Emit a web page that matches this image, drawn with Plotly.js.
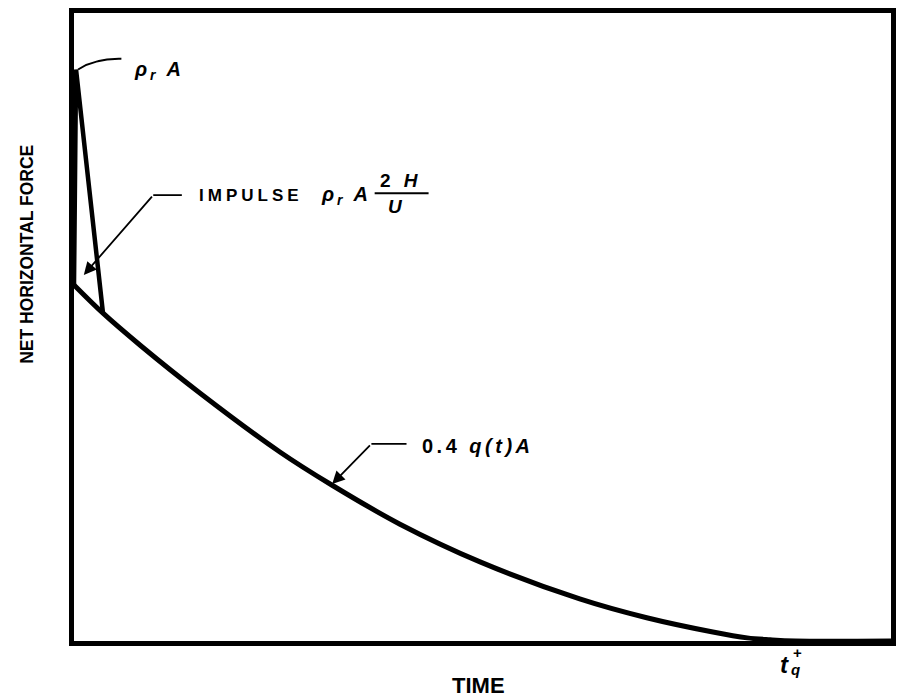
<!DOCTYPE html>
<html>
<head>
<meta charset="utf-8">
<script src="https://cdn.plot.ly/plotly-3.0.1.min.js"></script>
<style>
html,body{margin:0;padding:0;background:#fff;}
#chart{width:898px;height:700px;}
</style>
</head>
<body>
<div id="chart"></div>
<script>
// Quasi-static drag-type force 0.4 q(t) A (normalized time, normalized force)
const curveX = [0, 3.55, 8.1, 15.4, 25.2, 31.6, 39.9, 49.7, 61.9, 70.1, 78.2, 82.4, 85.2, 88.3, 100];
const curveY = [56.7, 52.2, 47.1, 39.5, 30.1, 24.8, 18.6, 12.6, 6.7, 3.7, 1.43, 0.5, 0.2, 0, 0];
// Reflected pressure pulse p_r A decaying onto the drag curve
const pulseX = [0, 0.25, 3.55];
const pulseY = [56.7, 91.0, 52.2];

const xTitle = 'TIME';
const yTitle = 'NET HORIZONTAL FORCE';

const F = 'Liberation Sans, Arial, sans-serif';

const traces = [
  {x: curveX, y: curveY, mode: 'lines', line: {color: '#000', width: 5, shape: 'spline', smoothing: 1}, cliponaxis: false, hoverinfo: 'skip'},
  {x: pulseX, y: pulseY, mode: 'lines', line: {color: '#000', width: 4.5}, cliponaxis: false, hoverinfo: 'skip'}
];

const black = '#000';
const ann = [
  // axis titles
  {x: 0.4945, y: -0.071, xref: 'paper', yref: 'paper', xanchor: 'center', yanchor: 'middle', showarrow: false,
   text: xTitle, font: {family: F, size: 22, color: black, weight: 'bold'}},
  {x: -0.0575, y: 0.615, xref: 'paper', yref: 'paper', xanchor: 'center', yanchor: 'middle', showarrow: false, textangle: -90,
   text: yTitle, font: {family: F, size: 17.5, color: black, weight: 'bold'}},
  // p_r A label
  {x: 7.1, y: 90.8, xref: 'x', yref: 'y', xanchor: 'left', yanchor: 'middle', showarrow: false,
   text: '<i><span style="letter-spacing:3px">ρ<sub>r</sub> A</span></i>', font: {family: F, size: 20, color: black, weight: 'bold'}},
  // IMPULSE label
  {x: 15.1, y: 71.0, xref: 'x', yref: 'y', xanchor: 'left', yanchor: 'middle', showarrow: false,
   text: '<span style="letter-spacing:4px">IMPULSE</span>', font: {family: F, size: 17, color: black, weight: 'bold'}},
  {x: 30.0, y: 71.0, xref: 'x', yref: 'y', xanchor: 'left', yanchor: 'middle', showarrow: false,
   text: '<i><span style="letter-spacing:3px">ρ<sub>r</sub> A</span></i>', font: {family: F, size: 20, color: black, weight: 'bold'}},
  {x: 40.0, y: 73.4, xref: 'x', yref: 'y', xanchor: 'center', yanchor: 'middle', showarrow: false,
   text: '<span style="letter-spacing:4px">2 <i>H</i></span>', font: {family: F, size: 19, color: black, weight: 'bold'}},
  {x: 39.4, y: 69.2, xref: 'x', yref: 'y', xanchor: 'center', yanchor: 'middle', showarrow: false,
   text: '<i>U</i>', font: {family: F, size: 19, color: black, weight: 'bold'}},
  // 0.4 q(t) A label
  {x: 42.3, y: 31.1, xref: 'x', yref: 'y', xanchor: 'left', yanchor: 'middle', showarrow: false,
   text: '<span style="letter-spacing:3.5px">0.4 <i>q(t)A</i></span>', font: {family: F, size: 20, color: black, weight: 'bold'}},
  // leader arrows
  {x: 1.2, y: 58.3, ax: 9.7, ay: 71.0, xref: 'x', yref: 'y', axref: 'x', ayref: 'y', text: '', showarrow: true,
   arrowhead: 2, arrowsize: 1.4, arrowwidth: 1.8, arrowcolor: black, standoff: 0},
  {x: 31.6, y: 25.0, ax: 36.4, ay: 31.4, xref: 'x', yref: 'y', axref: 'x', ayref: 'y', text: '', showarrow: true,
   arrowhead: 2, arrowsize: 1.4, arrowwidth: 1.8, arrowcolor: black, standoff: 0},
  // t_q^+ label
  {x: 87.0, y: -0.037, xref: 'x', yref: 'paper', xanchor: 'center', yanchor: 'middle', showarrow: false,
   text: '<i>t</i>', font: {family: F, size: 24, color: black, weight: 'bold'}},
  {x: 88.3, y: -0.046, xref: 'x', yref: 'paper', xanchor: 'center', yanchor: 'middle', showarrow: false,
   text: '<i>q</i>', font: {family: F, size: 15, color: black, weight: 'bold'}},
  {x: 88.6, y: -0.019, xref: 'x', yref: 'paper', xanchor: 'center', yanchor: 'middle', showarrow: false,
   text: '+', font: {family: F, size: 15, color: black, weight: 'bold'}}
];

const shapes = [
  // p_r A leader (curved)
  {type: 'path', xref: 'x', yref: 'y', path: 'M 0.5 91.0 Q 2.6 92.8 5.8 92.7', line: {color: black, width: 2}},
  // horizontal leader segments
  {type: 'line', xref: 'x', yref: 'y', x0: 9.7, y0: 71.0, x1: 13.2, y1: 71.0, line: {color: black, width: 1.8}},
  {type: 'line', xref: 'x', yref: 'y', x0: 36.4, y0: 31.4, x1: 40.7, y1: 31.4, line: {color: black, width: 1.8}},
  // fraction bar
  {type: 'line', xref: 'x', yref: 'y', x0: 36.8, y0: 71.3, x1: 43.4, y1: 71.3, line: {color: black, width: 2.2}}
];

const axisBase = {range: [0, 100], showline: true, mirror: true, linewidth: 5, linecolor: black,
  showgrid: false, zeroline: false, showticklabels: false, ticks: '', fixedrange: true};

const layout = {
  width: 898, height: 700,
  margin: {l: 74, r: 7, t: 13, b: 59},
  paper_bgcolor: '#fff', plot_bgcolor: '#fff',
  showlegend: false,
  xaxis: Object.assign({}, axisBase),
  yaxis: Object.assign({}, axisBase),
  annotations: ann,
  shapes: shapes
};

Plotly.newPlot('chart', traces, layout, {displayModeBar: false, staticPlot: true});
</script>
</body>
</html>
